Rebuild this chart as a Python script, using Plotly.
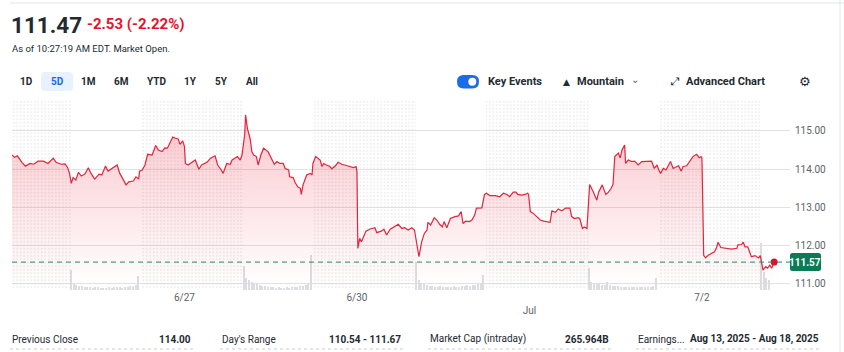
import plotly.graph_objects as go

# ---------------- data ----------------
DAY_LABELS = ["6/26", "6/27", "6/30", "Jul", "7/2"]

t_0626 = ["04:00","04:15","04:30","04:55","05:15","05:40","06:00","06:25","06:55","07:20","07:50","08:05","08:35","08:55","09:10","09:20","09:30","09:40","09:55","10:10","10:25","10:45","11:05","11:20","11:40","12:05","12:20","12:40","12:55","13:20","13:45","14:00","14:20","14:35","14:50","15:15","15:30","15:45","15:50","16:05","16:20","16:35","17:00","17:20","17:35","17:55","18:10","18:25","18:40","18:55","19:10","19:25","19:35","19:50","20:00"]
p_0626 = [114.37,114.31,114.35,114.18,114.08,114.15,114.13,114.21,114.21,114.15,114.29,114.18,114.13,114.14,114.04,113.89,113.63,113.78,113.72,113.92,113.82,113.87,114.04,113.89,113.74,113.87,113.85,114.08,113.95,114.02,114.11,113.89,113.72,113.59,113.67,113.69,113.80,113.74,113.95,113.98,114.11,114.39,114.37,114.62,114.50,114.46,114.56,114.55,114.70,114.84,114.81,114.79,114.65,114.74,114.59]

t_0627 = ["04:05","04:20","04:40","05:00","05:20","05:35","06:05","06:25","06:50","07:05","07:25","07:35","07:55","08:15","08:25","08:40","08:55","09:10","09:20","09:35","09:40","09:50","10:05","10:15","10:25","10:40","10:50","11:05","11:20","11:45","12:05","12:20","12:35","12:50","13:10","13:20","13:40","13:45","14:05","14:15","14:30","14:45","14:50","15:00","15:20","15:40","15:50","15:55","16:10","16:35","16:45","16:55","17:10","17:30","17:40","18:00","18:15","18:35","19:05","19:20","19:40","19:55","20:00"]
p_0627 = [114.15,114.11,114.18,114.24,114.00,114.11,114.18,114.29,114.35,114.11,113.98,113.89,114.15,114.13,114.24,114.29,114.33,114.24,114.37,114.90,115.42,115.07,114.81,114.46,114.37,114.33,114.11,114.37,114.55,114.46,114.29,114.13,114.20,114.15,114.15,114.02,113.98,113.80,113.78,113.66,113.54,113.50,113.34,113.59,113.85,113.89,113.85,114.15,114.33,114.24,114.07,114.15,114.11,114.07,114.01,114.09,114.18,114.13,114.09,114.07,114.04,114.07,113.93]

t_0630 = ["04:05","04:15","04:25","04:50","05:10","05:40","05:50","06:15","06:30","06:45","07:05","07:30","07:50","08:10","08:25","08:45","09:05","09:20","09:30","09:45","10:00","10:15","10:30","10:35","10:50","11:10","11:25","11:40","11:55","12:05","12:20","12:40","13:05","13:25","13:40","13:50","14:05","14:25","14:40","14:55","15:05","15:20","15:35","15:50","16:00","16:20","16:50","17:15","17:35","17:55","18:10","18:30","18:45","18:55","19:15","19:35","19:50","19:55"]
p_0630 = [111.93,112.19,112.10,112.38,112.43,112.47,112.34,112.38,112.43,112.28,112.43,112.49,112.56,112.45,112.47,112.41,112.47,112.41,112.15,111.71,112.10,112.32,112.41,112.61,112.54,112.73,112.67,112.56,112.49,112.63,112.47,112.71,112.76,112.78,112.89,112.58,112.64,112.63,112.67,112.80,112.98,112.99,112.99,113.34,113.37,113.31,113.31,113.28,113.37,113.34,113.28,113.40,113.40,113.34,113.32,113.34,113.37,113.34]

t_0701 = ["04:05","04:20","04:40","05:00","05:20","05:45","05:55","06:05","06:25","06:40","07:00","07:20","07:45","07:55","08:10","08:30","08:40","08:55","09:05","09:20","09:35","09:55","10:15","10:25","10:45","11:05","11:20","11:35","11:45","11:55","12:05","12:15","12:25","12:35","12:50","12:55","13:10","13:30","13:45","14:05","14:25","14:50","15:20","15:35","15:50","16:00","16:10","16:25","16:40","16:50","17:05","17:20","17:40","17:50","18:05","18:15","18:35","18:55","19:10","19:30","19:45","19:55","20:00"]
p_0701 = [112.89,112.85,112.76,112.67,112.64,112.63,112.61,112.91,112.87,112.96,112.91,112.98,112.98,112.76,112.71,112.73,112.71,112.45,112.49,112.45,113.60,113.41,113.19,113.40,113.59,113.34,113.40,113.50,113.60,114.33,114.37,114.42,114.29,114.50,114.63,114.15,114.24,114.20,114.21,114.11,114.20,114.21,114.21,114.02,114.11,113.98,113.89,114.02,113.98,114.07,114.20,114.02,114.07,114.09,113.95,114.07,114.09,114.24,114.33,114.39,114.30,114.33,114.29]

t_0702 = ["04:10","04:20","04:35","04:55","05:10","05:20","05:30","05:45","06:10","06:45","07:15","07:20","07:40","07:50","08:00","08:15","08:25","08:35","08:55","09:15","09:25","09:30","09:40","09:55","10:05","10:18","10:28","10:42"]
p_0702 = [111.75,111.68,111.75,111.80,111.84,111.93,112.09,111.95,111.93,111.91,111.93,112.02,112.03,112.09,111.97,111.97,111.84,111.71,111.74,111.68,111.74,111.60,111.36,111.45,111.41,111.49,111.41,111.57]

# volume, thousands of shares, 15-minute bars from 09:30
v_0626 = [2000,600,500,400,400,300,300,300,200,300,300,200,200,200,300,200,300,300,300,200,300,300,400,400,500,1400]
v_0627 = [2400,1200,1000,800,700,600,500,400,400,300,300,300,200,300,200,200,300,200,300,300,300,400,400,500,600,3500]
v_0630 = [2800,1000,700,600,500,400,400,300,300,400,300,300,300,300,400,300,300,400,400,500,400,500,500,600,600,1500]
v_0701 = [2200,800,700,600,600,500,500,800,500,400,400,400,300,300,300,300,300,300,300,300,300,300,300,300,400,1200]
v_0702 = [4700,1800,1200,1000]

LAST_PRICE = 111.57
PRICE_TICKS = [111, 112, 113, 114, 115]

HEADER_PRICE = "111.47"
HEADER_CHANGE = "-2.53 (-2.22%)"
HEADER_TIME = "As of 10:27:19 AM EDT. Market Open."
RANGES = ["1D", "5D", "1M", "6M", "YTD", "1Y", "5Y", "All"]
STATS = [("Previous Close", "114.00"), ("Day's Range", "110.54 - 111.67"),
         ("Market Cap (intraday)", "265.964B"), ("Earnings...", "Aug 13, 2025 - Aug 18, 2025")]

# ---------------- helpers ----------------
SESSION_START = 4  # 04:00
SESSION_LEN = 16   # 04:00-20:00


def hrs(day, hhmm):
    h, m = hhmm.split(":")
    return day * SESSION_LEN + int(h) + int(m) / 60 - SESSION_START


days_t = [t_0626, t_0627, t_0630, t_0701, t_0702]
days_p = [p_0626, p_0627, p_0630, p_0701, p_0702]
xs, ys = [], []
for d, (tt, pp) in enumerate(zip(days_t, days_p)):
    assert len(tt) == len(pp)
    for t, p in zip(tt, pp):
        xs.append(hrs(d, t))
        ys.append(p)

vol_x, vol_y = [], []
for d, vv in enumerate([v_0626, v_0627, v_0630, v_0701, v_0702]):
    for i, v in enumerate(vv):
        mins = 9 * 60 + 30 + 15 * i
        vol_x.append(hrs(d, f"{mins // 60:02d}:{mins % 60:02d}"))
        vol_y.append(v)

# extended-hours shading (pre 04:00-09:30, post 16:00-20:00)
ext_x, ext_w = [], []
for d in range(5):
    spans = [("04:00", "09:30")] + ([("16:00", "20:00")] if d < 4 else [])
    for a, b in spans:
        xa, xb = hrs(d, a), hrs(d, b)
        ext_x.append((xa + xb) / 2)
        ext_w.append(xb - xa)

# plot area in pixels
L, R, T, B = 12, 790, 100, 290
W, H = R - L, B - T
XMAX = 72.17
YMIN, YMAX = 110.84, 115.81


def px(x):
    return (x - L) / W


def py(y):
    return (B - y) / H


FONT = "Roboto, Arial, sans-serif"
DARK = "#232a31"
GREY = "#5b636a"

fig = go.Figure()

fig.add_trace(go.Bar(
    x=ext_x, y=[1] * len(ext_x), width=ext_w, yaxis="y", hoverinfo="skip",
    marker=dict(color="rgba(0,0,0,0)", line=dict(width=0),
                pattern=dict(shape=".", fgcolor="#d2d2d2", bgcolor="rgba(0,0,0,0)",
                             size=3.5, solidity=0.1, fillmode="replace")),
    showlegend=False))

fig.add_trace(go.Bar(
    x=vol_x, y=vol_y, width=0.13, yaxis="y2", hoverinfo="skip",
    marker=dict(color="#dcdde0", line=dict(width=0)), showlegend=False))

fig.add_trace(go.Scatter(
    x=xs, y=ys, yaxis="y3", mode="lines",
    line=dict(color="#e5233b", width=1.2),
    fill="tozeroy",
    fillgradient=dict(type="vertical", start=YMIN + 0.1, stop=115.5,
                      colorscale=[[0, "rgba(235,15,41,0)"], [1, "rgba(235,15,41,0.24)"]]),
    showlegend=False))

fig.add_trace(go.Scatter(
    x=[xs[-1]], y=[ys[-1]], yaxis="y3", mode="markers",
    marker=dict(color="#e0102c", size=7), showlegend=False))

shapes = []
anns = []


def text(s, x, y, size, color=DARK, anchor="left", weight="normal", family=FONT):
    anns.append(dict(text=s, x=px(x), y=py(y), xref="paper", yref="paper",
                     xanchor=anchor, yanchor="middle", showarrow=False,
                     font=dict(size=size, color=color, family=family, weight=weight)))


def rrect(x0, y0, x1, y1, r, color):
    X = lambda v: f"{px(v):.5f}"
    Y = lambda v: f"{py(v):.5f}"
    path = (f"M{X(x0 + r)},{Y(y0)} L{X(x1 - r)},{Y(y0)} Q{X(x1)},{Y(y0)} {X(x1)},{Y(y0 + r)} "
            f"L{X(x1)},{Y(y1 - r)} Q{X(x1)},{Y(y1)} {X(x1 - r)},{Y(y1)} "
            f"L{X(x0 + r)},{Y(y1)} Q{X(x0)},{Y(y1)} {X(x0)},{Y(y1 - r)} "
            f"L{X(x0)},{Y(y0 + r)} Q{X(x0)},{Y(y0)} {X(x0 + r)},{Y(y0)} Z")
    shapes.append(dict(type="path", path=path, xref="paper", yref="paper",
                       fillcolor=color, line=dict(width=0), layer="above"))


# header
text(HEADER_PRICE, 9, 25, 22.5, DARK, weight="bold")
text(HEADER_CHANGE, 85, 24, 15, "#eb0f29", weight="bold")
text(HEADER_TIME, 10, 48, 9.5, DARK)

range_x = [26, 57, 88, 121, 156, 190, 221, 252]
rrect(41, 72, 73, 91, 4, "#e8f1ff")
for lab, cx in zip(RANGES, range_x):
    text(lab, cx, 81.5, 10, "#0f69ff" if lab == "5D" else DARK, anchor="center", weight="bold")

# toggle + controls
rrect(457, 75, 479, 88.5, 6.7, "#1a6ce8")
shapes.append(dict(type="circle", xref="paper", yref="paper",
                   x0=px(468.3), x1=px(476.3), y0=py(77.8), y1=py(85.8),
                   fillcolor="white", line=dict(width=0), layer="above"))
text("Key Events", 486, 81.5, 11, DARK, weight="bold")
text("▲", 561, 81.5, 9, DARK, family="DejaVu Sans")
text("Mountain", 575, 82, 11, DARK, weight="bold")
text("⌄", 629, 79, 10, GREY, family="DejaVu Sans")
text("⤢", 669, 82, 11, DARK, family="DejaVu Sans")
text("Advanced Chart", 684, 82, 11, DARK, weight="bold")
text("⚙", 805, 82, 13, DARK, anchor="center", family="DejaVu Sans")

# stats row
stat_pos = [(10, 193), (220, 403), (428, 611), (636, 821)]
for (lab, val), (x0, x1) in zip(STATS, stat_pos):
    text(lab, x0, 339, 10, DARK)
    text(val, x1, 339, 10, DARK, anchor="right", weight="bold")
    shapes.append(dict(type="line", xref="paper", yref="paper", x0=px(x0), x1=px(x1),
                       y0=py(349), y1=py(349), line=dict(color="#c9cdd2", width=1, dash="dot")))

# borders
shapes.append(dict(type="line", xref="paper", yref="paper", x0=px(10), x1=px(844),
                   y0=py(3), y1=py(3), line=dict(color="#e3e5e8", width=1)))
shapes.append(dict(type="line", xref="paper", yref="paper", x0=px(840), x1=px(840),
                   y0=py(0), y1=py(352), line=dict(color="#e3e5e8", width=1)))

# last price line + label
shapes.append(dict(type="line", xref="paper", yref="y3", x0=0, x1=1,
                   y0=LAST_PRICE, y1=LAST_PRICE,
                   line=dict(color="#1f8a68", width=1, dash="5px,4px")))
lp_y = 290 - (LAST_PRICE - YMIN) / (YMAX - YMIN) * H
rrect(790, lp_y - 9, 821, lp_y + 9, 2.5, "#0b7a55")
text(f"{LAST_PRICE:.2f}", 805.5, lp_y, 10, "white", anchor="center", weight="bold")

fig.update_layout(
    width=844, height=352,
    margin=dict(l=L, r=844 - R, t=T, b=352 - B),
    paper_bgcolor="white", plot_bgcolor="white",
    barmode="overlay", bargap=0,
    showlegend=False,
    font=dict(family=FONT, color=GREY),
    xaxis=dict(range=[0, XMAX], showgrid=False, zeroline=False, showline=False,
               tickvals=[16, 32, 48, 64],
               ticktext=[DAY_LABELS[1], DAY_LABELS[2], "<br>" + DAY_LABELS[3], DAY_LABELS[4]],
               tickfont=dict(size=10, color=GREY, family=FONT), ticks=""),
    yaxis=dict(range=[0, 1], visible=False, fixedrange=True),
    yaxis2=dict(range=[0, 19000], overlaying="y", visible=False),
    yaxis3=dict(range=[YMIN, YMAX], overlaying="y", side="right",
                tickvals=PRICE_TICKS, tickformat=".2f", showgrid=True,
                gridcolor="#e2e2e2", gridwidth=1, zeroline=False, showline=False,
                ticks="", ticklabelstandoff=4,
                tickfont=dict(size=10, color=GREY, family=FONT)),
    shapes=shapes, annotations=anns,
)

fig.write_html("out.html")
